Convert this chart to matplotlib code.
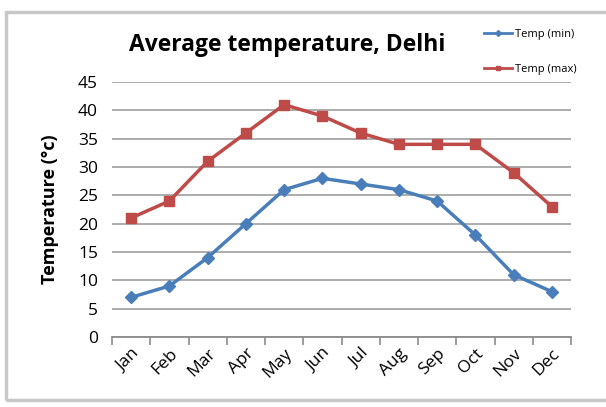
import matplotlib
matplotlib.use("Agg")
import matplotlib.pyplot as plt
from matplotlib.patches import Rectangle
from matplotlib.lines import Line2D

months = ["Jan", "Feb", "Mar", "Apr", "May", "Jun", "Jul", "Aug", "Sep", "Oct", "Nov", "Dec"]
temp_min = [7, 9, 14, 20, 26, 28, 27, 26, 24, 18, 11, 8]
temp_max = [21, 24, 31, 36, 41, 39, 36, 34, 34, 34, 29, 23]
yticks = [0, 5, 10, 15, 20, 25, 30, 35, 40, 45]

plt.rcParams['font.family'] = ['Open Sans', 'DejaVu Sans']

W, H = 606, 407
fig = plt.figure(figsize=(W / 100, H / 100), dpi=100)
fig.patch.set_facecolor('white')

# outer chart border
fig.patches.append(Rectangle((6 / W, 1 - 400 / H), (610 - 6) / W, (400 - 12) / H,
                             transform=fig.transFigure, fill=False,
                             edgecolor='#c8c8c8', linewidth=2.5))

left, right, top, bottom = 112, 571, 82, 337
ax = fig.add_axes([left / W, 1 - bottom / H, (right - left) / W, (bottom - top) / H])

x = list(range(len(months)))
c_min = '#4a7ebb'
c_max = '#be4b48'
ax.plot(x, temp_min, color=c_min, linewidth=2.5, marker='D', markersize=6, label='Temp (min)')
ax.plot(x, temp_max, color=c_max, linewidth=2.5, marker='s', markersize=7, label='Temp (max)')

ax.set_xlim(-0.5, len(months) - 0.5)
ax.set_ylim(0, 45)
ax.set_yticks(yticks)
ax.set_yticklabels([str(v) for v in yticks], fontsize=12.5)
ax.yaxis.grid(True, color='#a6a6a6', linewidth=1.3)
ax.set_axisbelow(True)
ax.tick_params(axis='y', length=0, pad=10)

ax.set_xticks(x)
ax.set_xticklabels(months, rotation=45, fontsize=12.5, ha='right', rotation_mode='anchor')
ax.tick_params(axis='x', which='major', length=0, pad=6)
ax.set_xticks([i - 0.5 for i in range(len(months) + 1)], minor=True)
ax.tick_params(axis='x', which='minor', length=6, color='#8c8c8c', width=1.2)

for s in ['top', 'right', 'left']:
    ax.spines[s].set_visible(False)
ax.spines['bottom'].set_color('#8c8c8c')
ax.spines['bottom'].set_linewidth(1.3)

ax.set_ylabel('Temperature (°c)', fontsize=13, fontweight='bold', labelpad=14)

fig.text(287 / W, 1 - 45 / H, 'Average temperature, Delhi', fontsize=16.5, fontweight='bold',
         ha='center', va='center')

handles = [Line2D([], [], color=c_min, linewidth=2, marker='D', markersize=3),
           Line2D([], [], color=c_max, linewidth=2, marker='s', markersize=3.5)]
fig.legend(handles, ['Temp (min)', 'Temp (max)'], loc='upper left',
           bbox_to_anchor=(478 / W, 1 - 23 / H), frameon=False, fontsize=8,
           handlelength=2.6, handletextpad=0.2, labelspacing=2.2, borderpad=0)

fig.savefig('out.png', dpi=100)
